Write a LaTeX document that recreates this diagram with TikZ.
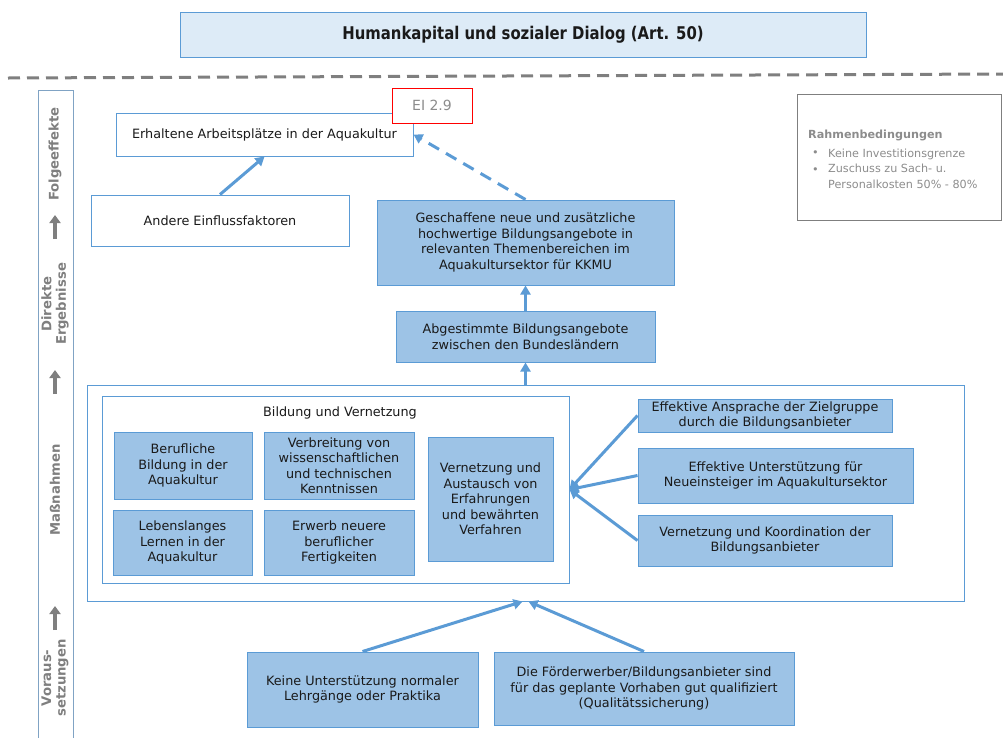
\documentclass[tikz,border=0pt]{standalone}
\usepackage{fontspec}
\setmainfont{DejaVu Sans}
\newfontfamily\titlefont[FakeStretch=0.85]{DejaVu Sans}
\usetikzlibrary{arrows.meta,calc}
\definecolor{bblue}{HTML}{5B9BD5}
\definecolor{bfill}{HTML}{9DC3E6}
\definecolor{tfill}{HTML}{DDEBF7}
\definecolor{gtext}{HTML}{7F7F7F}
\definecolor{ltext}{HTML}{8C8C8C}
\definecolor{dtext}{HTML}{1A1A1A}
\tikzset{
  box/.style={draw=bblue, line width=1pt, inner sep=2pt, align=center, text=dtext,
    font=\fontsize{12.8}{15.5}\selectfont},
  wbox/.style={box, fill=white},
  fbox/.style={box, fill=bfill},
  conn/.style={draw=bblue, line width=3pt, -{Triangle[length=9pt,width=10pt]}},
  lbl/.style={rotate=90, text=gtext, align=center, font=\fontsize{13.2}{14.5}\selectfont\bfseries},
  garrow/.style={draw=gtext, line width=4pt, -{Triangle[length=8pt,width=11pt]}},
  rtxt/.style={text=ltext, anchor=west, inner sep=0pt, align=left, font=\fontsize{11.2}{15.5}\selectfont},
}
\begin{document}
\begin{tikzpicture}[x=1pt,y=-1pt]
\useasboundingbox (0,0) rectangle (1003,737);
% title
\node[box, fill=tfill, minimum width=686pt, minimum height=45pt, font=\fontsize{17.5}{20}\titlefont\bfseries] (title) at (523,34.5) {Humankapital und sozialer Dialog (Art. 50)};
\coordinate (dl) at (8,78);
\coordinate (dr) at (1003,74);
\draw[gtext, line width=3pt, dash pattern=on 12pt off 7pt] (dl) -- (dr);
% left column
\coordinate (lc1) at (38,745);
\coordinate (lc2) at (38,90);
\coordinate (lc3) at (73,90);
\coordinate (lc4) at (73,745);
\draw[bblue!80!black!70, line width=1pt] (lc1) -- (lc2) -- (lc3) -- (lc4);
\node[lbl] (lfolge) at (55,154) {Folgeeffekte};
\node[lbl] (ldirekt) at (55,304) {Direkte\\Ergebnisse};
\node[lbl] (lmass) at (55,490) {Maßnahmen};
\node[lbl] (lvor) at (55,678) {Voraus-\\setzungen};
\coordinate (ga1s) at (55,239); \coordinate (ga1e) at (55,215);
\coordinate (ga2s) at (55,394); \coordinate (ga2e) at (55,370);
\coordinate (ga3s) at (55,630); \coordinate (ga3e) at (55,606);
\draw[garrow] (ga1s) -- (ga1e);
\draw[garrow] (ga2s) -- (ga2e);
\draw[garrow] (ga3s) -- (ga3e);
% Folgeeffekte
\node[wbox, minimum width=297pt, minimum height=43pt] (erh) at (264.5,134.5) {Erhaltene Arbeitsplätze in der Aquakultur};
\node[draw=red, line width=1pt, fill=white, text=ltext, minimum width=80pt, minimum height=35pt, inner sep=0pt, font=\fontsize{14}{16}\selectfont] (ei) at (432,105.5) {EI 2.9};
\node[wbox, minimum width=258pt, minimum height=51pt] (andere) at (220,220.5) {Andere Einflussfaktoren};
% Rahmenbedingungen
\node[draw=gtext, line width=1pt, minimum width=204pt, minimum height=126pt] (rahmen) at (899,157) {};
\node[rtxt, font=\fontsize{11.2}{15}\selectfont\bfseries] (rh) at (808,135) {Rahmenbedingungen};
\node[rtxt] (rb1) at (812,154) {•};
\node[rtxt] (rt1) at (828,154) {Keine Investitionsgrenze};
\node[rtxt] (rb2) at (812,171) {•};
\node[rtxt, anchor=north west] (rt2) at (828,164) {Zuschuss zu Sach- u.\\Personalkosten 50\% - 80\%};
% Direkte Ergebnisse
\node[fbox, minimum width=297pt, minimum height=85pt] (gesch) at (525.5,242.5) {Geschaffene neue und zusätzliche\\hochwertige Bildungsangebote in\\relevanten Themenbereichen im\\Aquakultursektor für KKMU};
\node[fbox, minimum width=259pt, minimum height=51pt] (abg) at (525.5,336.5) {Abgestimmte Bildungsangebote\\zwischen den Bundesländern};
% Massnahmen
\node[wbox, minimum width=877pt, minimum height=216pt] (mass) at (525.5,493) {};
\node[wbox, minimum width=467pt, minimum height=187pt] (bv) at (335.5,489.5) {};
\node[inner sep=0pt, text=dtext, font=\fontsize{12.8}{15.5}\selectfont] (bvt) at (340,413) {Bildung und Vernetzung};
\node[fbox, minimum width=138pt, minimum height=67pt] (beruf) at (183,465.5) {Berufliche\\Bildung in der\\Aquakultur};
\node[fbox, minimum width=150pt, minimum height=67pt] (verb) at (339,465.5) {Verbreitung von\\wissenschaftlichen\\und technischen\\Kenntnissen};
\node[fbox, minimum width=139pt, minimum height=65pt] (leben) at (182.5,542.5) {Lebenslanges\\Lernen in der\\Aquakultur};
\node[fbox, minimum width=150pt, minimum height=65pt] (erwerb) at (339,542.5) {Erwerb neuere\\beruflicher\\Fertigkeiten};
\node[fbox, minimum width=125pt, minimum height=124pt] (vaus) at (490.5,499) {Vernetzung und\\Austausch von\\Erfahrungen\\und bewährten\\Verfahren};
\node[fbox, minimum width=254pt, minimum height=33pt] (ansp) at (765,415.5) {Effektive Ansprache der Zielgruppe\\durch die Bildungsanbieter};
\node[fbox, minimum width=275pt, minimum height=55pt] (unter) at (775.5,475.5) {Effektive Unterstützung für\\Neueinsteiger im Aquakultursektor};
\node[fbox, minimum width=254pt, minimum height=51pt] (koord) at (765,540.5) {Vernetzung und Koordination der\\Bildungsanbieter};
% Voraussetzungen
\node[fbox, minimum width=231pt, minimum height=75pt] (keine) at (362.5,689.5) {Keine Unterstützung normaler\\Lehrgänge oder Praktika};
\node[fbox, minimum width=300pt, minimum height=73pt] (foerd) at (644,688.5) {Die Förderwerber/Bildungsanbieter sind\\für das geplante Vorhaben gut qualifiziert\\(Qualitätssicherung)};
% connectors
\draw[conn] (andere.north) -- (erh.south);
\draw[conn, dash pattern=on 12pt off 8pt] (gesch.north) -- (erh.east);
\draw[conn] (abg.north) -- (gesch.south);
\draw[conn] (mass.north) -- (abg.south);
\draw[conn] (ansp.west) -- (bv.east);
\draw[conn] (unter.west) -- (bv.east);
\draw[conn] (koord.west) -- (bv.east);
\draw[conn] (keine.north) -- ($(mass.south)+(-3,0)$);
\draw[conn] (foerd.north) -- ($(mass.south)+(3,0)$);
\end{tikzpicture}
\end{document}
